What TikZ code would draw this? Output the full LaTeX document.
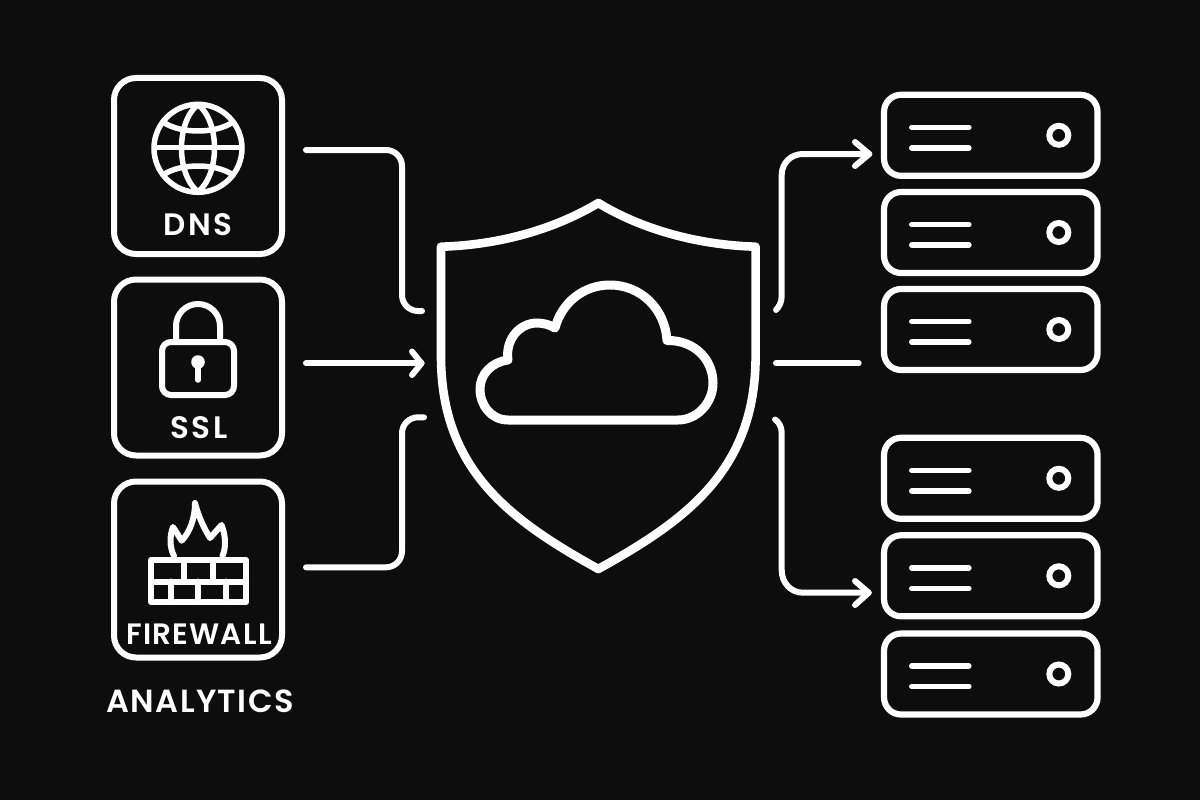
\documentclass[tikz,border=0pt]{standalone}
\usepackage{fontspec}
\setmainfont{Poppins}
\newfontfamily\lblfont[LetterSpace=8]{Poppins SemiBold}
\newfontfamily\fwfont[LetterSpace=4]{Poppins SemiBold}
\newfontfamily\anfont[LetterSpace=4.5]{Poppins SemiBold}
\usetikzlibrary{arrows.meta}
\definecolor{bgc}{HTML}{0D0D0D}
\tikzset{
  x=1pt,y=-1pt,
  ln/.style={draw=white,line width=6pt,line cap=round,line join=round},
  icon/.style={draw=white,line width=5.5pt,line cap=round,line join=round},
  tile/.style={draw=white,line width=6pt,rounded corners=22pt,minimum width=168pt,minimum height=176pt,inner sep=0pt},
  rack/.style={draw=white,line width=6.2pt,rounded corners=17pt,minimum width=213.5pt,minimum height=81pt,inner sep=0pt},
  lbl/.style={text=white,font=\lblfont\fontsize{31}{31}\selectfont,inner sep=0pt},
}
\newcommand{\rackunit}[2]{%
  \node[rack] (#1) at (990.8,#2) {};
  \draw[ln,line width=5.6pt] (#1.center)++(-79,12.5) -- ++(57,0);
  \draw[ln,line width=5.6pt] (#1.center)++(-79,-8) -- ++(57,0);
  \node[circle,draw=white,line width=6pt,minimum size=19pt,inner sep=0pt] (#1c) at ([xshift=68pt]#1.center) {};
}
\begin{document}
\begin{tikzpicture}
\fill[bgc] (0,0) rectangle (1200,800);
\useasboundingbox (0,0) rectangle (1200,800);
% tiles
\node[tile] (dns) at (198,166) {};
\node[tile] (ssl) at (198,367.5) {};
\node[tile] (fw) at (198,569.5) {};
\node[lbl] (dnst) at (198,225) {DNS};
\node[lbl] (sslt) at (199,428) {SSL};
\node[text=white,inner sep=0pt,font=\fwfont\fontsize{29.5}{29.5}\selectfont] (fwt) at (199,634.5) {FIREWALL};
\node[text=white,inner sep=0pt,font=\anfont\fontsize{32}{32}\selectfont] (ant) at (200,701) {ANALYTICS};
% globe
\node[circle,draw=white,line width=5.5pt,minimum size=88pt,inner sep=0pt] (globe) at (198,148.3) {};
\draw[icon] (198,104.5) .. controls (176,122) and (176,174) .. (198,192)
            .. controls (220,174) and (220,122) .. cycle;
\draw[icon] (154.5,147.5) -- (241.5,147.5);
\draw[icon] (163,122) .. controls (180,134) and (216,134) .. (233,122);
\draw[icon] (163,175) .. controls (180,163) and (216,163) .. (233,175);
% lock
\node[draw=white,line width=6pt,rounded corners=9pt,minimum width=72pt,minimum height=53pt,inner sep=0pt] (lock) at (198,368.5) {};
\draw[icon,line width=6pt] (176,341) -- (176,326) arc[start angle=180,end angle=360,radius=22] -- (220,341);
\fill[white] (198,362) circle[radius=6.8];
\draw[icon,line width=5.5pt] (198,364) -- (198,380);
% firewall
\draw[icon,line width=6pt] (151,560) rectangle (246,602);
\draw[icon,line width=6pt] (151,581.5) -- (246,581.5);
\draw[icon,line width=6pt] (184,560) -- (184,581.5) (212.7,560) -- (212.7,581.5);
\draw[icon,line width=6pt] (170.7,581.5) -- (170.7,602) (198,581.5) -- (198,602) (226,581.5) -- (226,602);
\draw[icon,line width=6pt] (174,556) .. controls (169,546) and (170,535) .. (173,527)
   -- (181.7,540.7) .. controls (190,532) and (195,518) .. (195,503)
   .. controls (199,518) and (204,528) .. (210,538) -- (221.5,525)
   .. controls (226,536) and (226,548) .. (222.5,556);
% shield
\draw[draw=white,line width=8.6pt,line join=round]
  (598.3,203) .. controls (555,229) and (500,245) .. (441,246.7)
  -- (441,356) .. controls (441,470) and (510,520) .. (598.3,569)
  .. controls (686.6,520) and (755.6,470) .. (755.6,356)
  -- (755.6,246.7) .. controls (697,245) and (641,229) .. cycle;
% cloud
\draw[draw=white,line width=9pt,line join=round]
  (508,420) .. controls (491,420) and (480,405) .. (480,389)
  .. controls (480,374) and (492,362) .. (508,360)
  .. controls (505,339) and (520,323) .. (537,323)
  .. controls (544,323) and (550,325) .. (555,328)
  .. controls (562,302) and (584,285) .. (610,285)
  .. controls (640,285) and (665,308) .. (667,340.5)
  .. controls (695,340) and (713,360) .. (713,383)
  .. controls (713,403) and (697,420) .. (678,420) -- cycle;
% racks
\rackunit{r1}{135.3}
\rackunit{r2}{232.5}
\rackunit{r3}{329.5}
\rackunit{r4}{478.3}
\rackunit{r5}{575.8}
\rackunit{r6}{674}
% connector ends
\coordinate (a1) at (306,150);
\coordinate (a2) at (422,311);
\coordinate (b1) at (306,363.3);
\coordinate (b2) at (421.5,363.3);
\coordinate (c1) at (306,567.3);
\coordinate (c2) at (424,417.3);
\coordinate (d1) at (776,310);
\coordinate (d2) at (869.3,154);
\coordinate (e1) at (776,363.3);
\coordinate (e2) at (858.7,363.3);
\coordinate (f1) at (775,419.5);
\coordinate (f2) at (868.7,592.7);
% connectors
\draw[ln] (a1) -- (386,150) arc[start angle=-90,end angle=0,radius=16] -- (402,295) arc[start angle=180,end angle=90,radius=16] -- (a2);
\draw[ln] (b1) -- (b2);
\draw[ln] (412,351.5) -- (b2) -- (412,375);
\draw[ln] (c1) -- (386,567.3) arc[start angle=90,end angle=0,radius=16] -- (402,433.3) arc[start angle=180,end angle=270,radius=16] -- (c2);
\draw[ln] (d1) .. controls (779,307) and (781.7,302) .. (781.7,296) -- (781.7,175) .. controls (781.7,163) and (791,154) .. (803,154) -- (d2);
\draw[ln] (855,142) -- (d2) -- (855,166);
\draw[ln] (e1) -- (e2);
\draw[ln] (f1) .. controls (779,422) and (781.7,427) .. (781.7,433) -- (781.7,570) .. controls (781.7,583) and (791,592.7) .. (803,592.7) -- (f2);
\draw[ln] (855,581) -- (f2) -- (855,605);
\end{tikzpicture}
\end{document}
